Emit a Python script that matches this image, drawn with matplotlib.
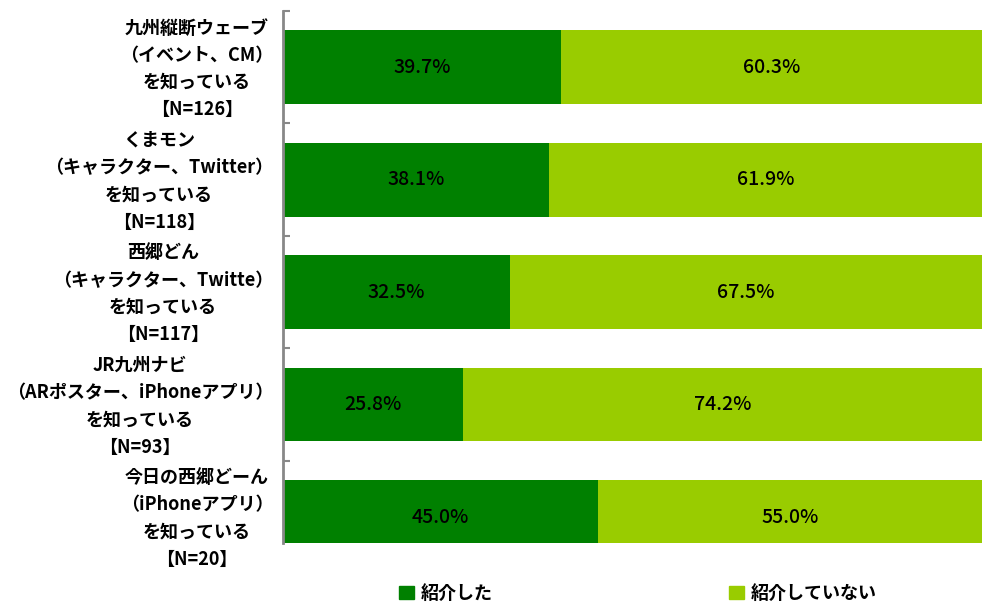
import numpy as np
import matplotlib.pyplot as plt
from matplotlib.patches import Patch

plt.rcParams['font.family'] = ['Noto Sans CJK JP', 'DejaVu Sans']

labels = [
    "九州縦断ウェーブ\n（イベント、CM）\nを知っている\n【N=126】",
    "くまモン\n（キャラクター、Twitter）\nを知っている\n【N=118】",
    "西郷どん\n（キャラクター、Twitte）\nを知っている\n【N=117】",
    "JR九州ナビ\n（ARポスター、iPhoneアプリ）\nを知っている\n【N=93】",
    "今日の西郷どーん\n（iPhoneアプリ）\nを知っている\n【N=20】",
]
introduced = [39.7, 38.1, 32.5, 25.8, 45.0]
not_introduced = [60.3, 61.9, 67.5, 74.2, 55.0]
series_names = ["紹介した", "紹介していない"]
colors = ["#008000", "#99CC00"]

fig = plt.figure(figsize=(9.82, 6.05), dpi=100)
ax = fig.add_axes([283/982, 1-543/605, 1-283/982, (543-11)/605])

y = np.arange(len(labels))
h = 0.655
ax.barh(y, introduced, height=h, color=colors[0])
ax.barh(y, not_introduced, left=introduced, height=h, color=colors[1])

for i in range(len(labels)):
    ax.text(introduced[i]/2, y[i], f"{introduced[i]:.1f}%", ha='center', va='center',
            fontsize=14, fontweight='medium', color='black')
    ax.text(introduced[i] + not_introduced[i]/2, y[i], f"{not_introduced[i]:.1f}%",
            ha='center', va='center', fontsize=14, fontweight='medium', color='black')

ax.set_xlim(0, 100)
ax.set_ylim(4.23, -0.5)
ax.set_xticks([])
# labels sit slightly above the bar centres, as in the original
ax.set_yticks(y - 0.04)
ax.set_yticklabels(labels, fontsize=13, fontweight='bold', multialignment='center',
                   linespacing=1.55)
ax.tick_params(axis='y', length=0, pad=7)
ax.set_yticks(np.arange(len(labels)) - 0.5, minor=True)
ax.tick_params(axis='y', which='minor', direction='in', length=5, width=1.5, color='#888888')

for s in ['top', 'right', 'bottom']:
    ax.spines[s].set_visible(False)
ax.spines['left'].set_color('#888888')
ax.spines['left'].set_linewidth(2)

handles = [Patch(color=c) for c in colors]
fig.legend(handles, series_names, loc='lower left', bbox_to_anchor=(383/982, -14/605),
           ncol=2, frameon=False, prop={'size': 13, 'weight': 'bold'},
           handlelength=0.8, handleheight=0.8, handletextpad=0.4, columnspacing=13.1)

fig.savefig("out.png", dpi=100)
